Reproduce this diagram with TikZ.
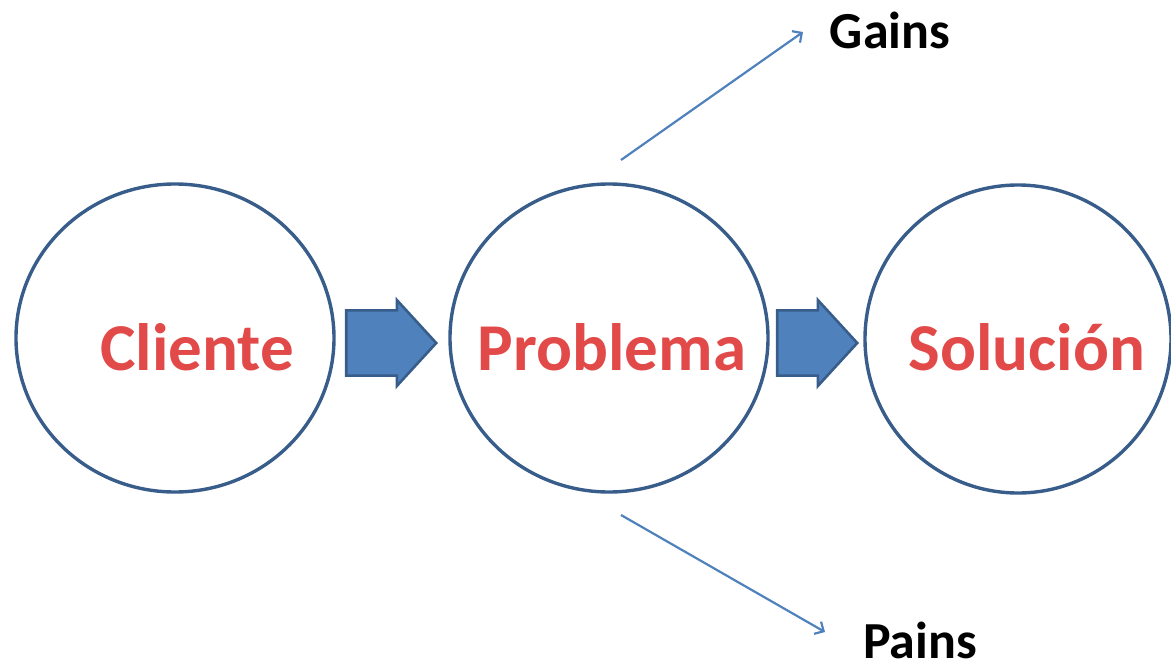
\documentclass[tikz,border=0pt]{standalone}
\usepackage{fontspec}
\setmainfont{Carlito}
\usetikzlibrary{shapes.geometric,shapes.arrows,arrows.meta}

\definecolor{ringblue}{RGB}{56,93,138}
\definecolor{fillblue}{RGB}{79,129,189}
\definecolor{wordred}{RGB}{226,74,74}

\begin{document}
\begin{tikzpicture}[x=1pt,y=-1pt]

\tikzset{StageStyle/.style = {ellipse, draw=ringblue, line width=3.4pt,
                              minimum width=318pt, minimum height=308pt, inner sep=0pt},
         WordStyle/.style  = {font=\bfseries\fontsize{67}{67}\selectfont, text=wordred,
                              inner sep=0pt},
         StepStyle/.style  = {single arrow, draw=ringblue, fill=fillblue, line width=2.6pt,
                              single arrow tip angle=95, inner xsep=0pt, inner ysep=21pt,
                              minimum width=86pt, anchor=tip},
         TagStyle/.style   = {font=\bfseries\fontsize{52}{52}\selectfont, inner sep=0pt,
                              anchor=base},
         LinkStyle/.style  = {draw=fillblue, line width=2.2pt, -{Straight Barb[length=7pt,width=14pt]}}}

\useasboundingbox (0,0) rectangle (1171,667);

\node[StageStyle] (cliente)  at (175,338) {};
\node[StageStyle] (problema) at (609,338) {};
\node[StageStyle, minimum width=306pt] (solucion) at (1018,339) {};

\node[WordStyle, anchor=base] (tcliente)  at (197,370) {Cliente};
\node[WordStyle, anchor=base] (tproblema) at (612,370) {Problema};
\node[WordStyle, anchor=base] (tsolucion) at (1027,370) {Solución};

\node[StepStyle, minimum height=90pt] (paso1) at (438,343) {};
\node[StepStyle, minimum height=80pt] (paso2) at (859,343) {};

\node[TagStyle] (gains) at (890,48) {Gains};
\node[TagStyle] (pains) at (920,658) {Pains};

\coordinate (gstart) at (621,160);
\coordinate (gend)   at (803,32);
\coordinate (pstart) at (621,515);
\coordinate (pend)   at (825,632);

\draw[LinkStyle] (gstart) -- (gend);
\draw[LinkStyle] (pstart) -- (pend);

\end{tikzpicture}
\end{document}
